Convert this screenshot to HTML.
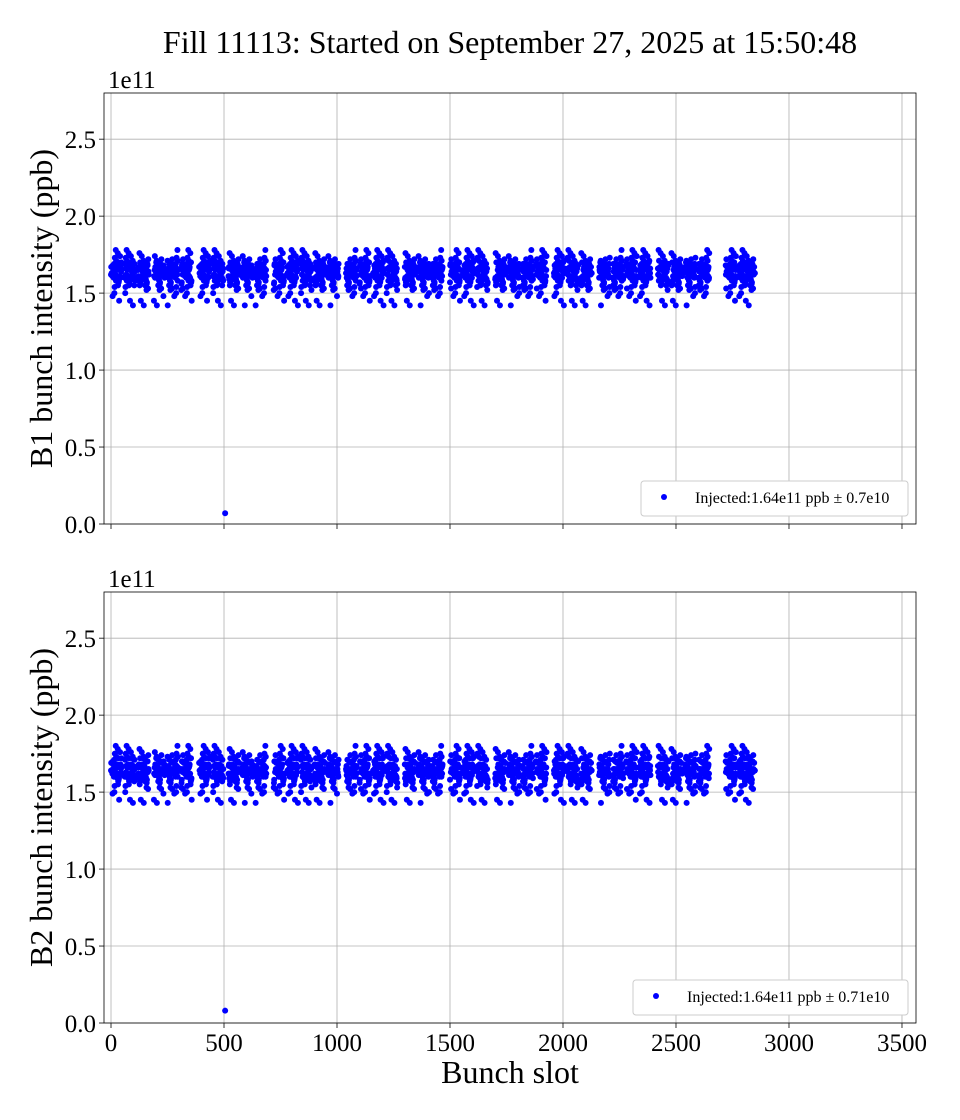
<!DOCTYPE html>
<html><head><meta charset="utf-8"><style>
body{margin:0;background:#fff;}
svg{display:block;font-family:"Liberation Serif","DejaVu Serif",serif;}
</style></head><body>
<svg id="chart" width="960" height="1120" viewBox="0 0 960 1120">
<text x="510" y="53" font-size="32" text-anchor="middle">Fill 11113: Started on September 27, 2025 at 15:50:48</text>
</svg>
<script>
// ---- data ----
const trainStarts = [0, 60, 120, 190, 250, 310, 390, 450, 520, 580, 640, 720, 780, 840, 900, 960, 1040, 1100, 1160, 1220, 1300, 1360, 1420, 1500, 1560, 1620, 1700, 1760, 1820, 1880, 1960, 2020, 2080, 2160, 2220, 2280, 2340, 2420, 2480, 2540, 2600, 2720, 2780];
const trainLengths = [48, 48, 48, 48, 48, 48, 48, 48, 48, 48, 48, 48, 48, 48, 48, 48, 48, 48, 48, 48, 48, 48, 48, 48, 48, 48, 48, 48, 48, 48, 48, 48, 48, 48, 48, 48, 48, 48, 48, 48, 48, 48, 70];
const b1Values = [1.62,1.66,1.58,1.70,1.64,1.55,1.68,1.61,1.73,1.59,1.65,1.63,1.52,1.67,1.60,1.71,1.57,1.64,1.69,1.62,1.48,1.66,1.60,1.74,1.63,1.56,1.67,1.61,1.65,1.58,1.70,1.64,1.53,1.68,1.62,1.76,1.60,1.66,1.57,1.63,1.69,1.61,1.45,1.65,1.59,1.72,1.64,1.62,1.55,1.67,1.60,1.68,1.63,1.50,1.66,1.61,1.71,1.58,1.64,1.62,1.78,1.57,1.65,1.60,1.69,1.63,1.54,1.67,1.61,1.42,1.66];
const b2Values = [1.64,1.68,1.60,1.72,1.63,1.57,1.70,1.62,1.75,1.59,1.66,1.65,1.53,1.69,1.61,1.73,1.58,1.66,1.71,1.63,1.49,1.67,1.62,1.76,1.64,1.56,1.69,1.60,1.66,1.59,1.72,1.65,1.52,1.70,1.63,1.78,1.61,1.67,1.58,1.64,1.71,1.62,1.45,1.66,1.60,1.74,1.65,1.63,1.55,1.68,1.61,1.70,1.64,1.50,1.67,1.62,1.73,1.59,1.65,1.63,1.80,1.57,1.66,1.61,1.70,1.64,1.54,1.68,1.62,1.43,1.65];
const b1Outlier = [505, 0.07];
const b2Outlier = [505, 0.08];
const xTicks = [0,500,1000,1500,2000,2500,3000,3500];
const yTicks = [0.0,0.5,1.0,1.5,2.0,2.5];
const b1Legend = "Injected:1.64e11 ppb \u00b1 0.7e10";
const b2Legend = "Injected:1.64e11 ppb \u00b1 0.71e10";

const NS="http://www.w3.org/2000/svg";
const svg=document.getElementById('chart');
function mk(tag,attrs,parent){const e=document.createElementNS(NS,tag);for(const k in attrs)e.setAttribute(k,attrs[k]);(parent||svg).appendChild(e);return e;}

function panel(top, values, outlier, ylabel, legendText, legendX, showXLabels, nm){
  const L=104,R=916,T=top,B=top+431;
  const xmin=-31,xmax=3562,ymin=0,ymax=2.8;
  const xs=v=>L+(v-xmin)/(xmax-xmin)*(R-L);
  const ys=v=>B-(v-ymin)/(ymax-ymin)*(B-T);
  const g=mk('g',{});
  
  
  xTicks.forEach(t=>{
    const x=xs(t);
    const gl=mk('line',{x1:x,x2:x,y1:T,y2:B,stroke:'#b0b0b0','stroke-width':0.8},g);
    
    
    mk('line',{x1:x,x2:x,y1:B,y2:B+5,stroke:'#000','stroke-width':0.8},g);
    if(showXLabels){
      const tx=mk('text',{x:x,y:B+28,'font-size':25,'text-anchor':'middle'},g);
      tx.textContent=String(t);
      
      
    }
  });
  yTicks.forEach(t=>{
    const y=ys(t);
    const gl=mk('line',{x1:L,x2:R,y1:y,y2:y,stroke:'#b0b0b0','stroke-width':0.8},g);
    
    
    mk('line',{x1:L-5,x2:L,y1:y,y2:y,stroke:'#000','stroke-width':0.8},g);
    const tx=mk('text',{x:L-8,y:y+9,'font-size':25,'text-anchor':'end'},g);
    tx.textContent=t.toFixed(1);
    
    
  });
  const ex=mk('text',{x:L+4,y:T-5,'font-size':25},g);
  ex.textContent='1e11';
  
  
  const yl=mk('text',{transform:`translate(52,${(T+B)/2}) rotate(-90)`,'font-size':32,'text-anchor':'middle'},g);
  yl.textContent=ylabel;
  
  
  let k=0;
  trainStarts.forEach((s,i)=>{
    for(let j=0;j<trainLengths[i];j++){
      const slot=s+j;
      const v=values[(k*13+i*29)%values.length];
      k++;
      const c=mk('circle',{cx:xs(slot),cy:ys(v),r:3,fill:'#0000ff'},g);
      
      
    }
  });
  const o=mk('circle',{cx:xs(outlier[0]),cy:ys(outlier[1]),r:3,fill:'#0000ff'},g);
  
  
  const fr=mk('rect',{x:L,y:T,width:R-L,height:B-T,fill:'none',stroke:'#000','stroke-width':0.8},g);
  
  
  const lg=mk('g',{},g);
  
  
  mk('rect',{x:legendX,y:B-43,width:908-legendX,height:35,rx:3,fill:'#fff',stroke:'#ccc','stroke-width':1},lg);
  mk('circle',{cx:legendX+23,cy:B-27,r:3,fill:'#0000ff'},lg);
  const lt=mk('text',{x:legendX+54,y:B-21,'font-size':16},lg);
  lt.textContent=legendText;
  
  
}
panel(93,b1Values,b1Outlier,'B1 bunch intensity (ppb)',b1Legend,641,false,'b1');
panel(592,b2Values,b2Outlier,'B2 bunch intensity (ppb)',b2Legend,633,true,'b2');
const xl=mk('text',{x:510,y:1083,'font-size':32,'text-anchor':'middle'});
xl.textContent='Bunch slot';


</script>
</body></html>
